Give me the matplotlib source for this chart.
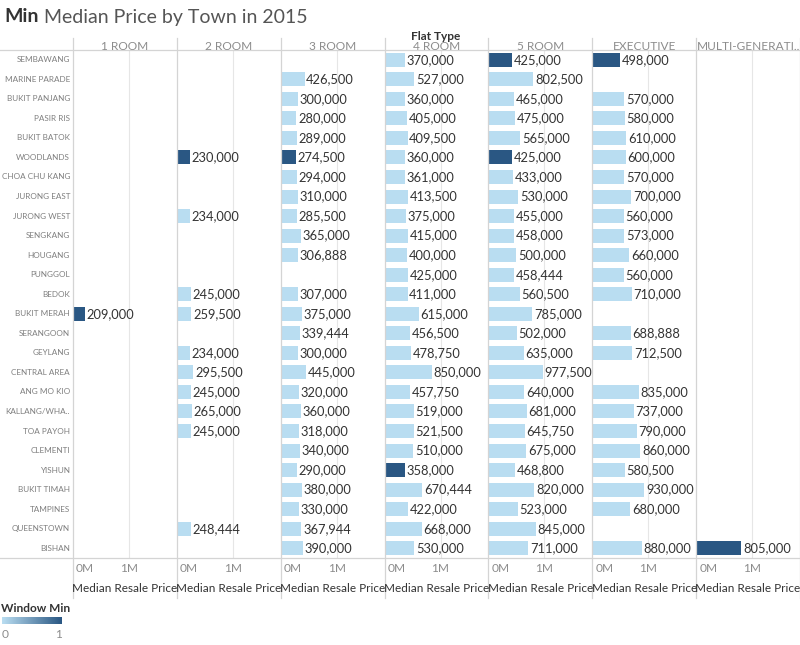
import matplotlib
matplotlib.use("Agg")
import matplotlib.pyplot as plt
from matplotlib.colors import LinearSegmentedColormap
import numpy as np

plt.rcParams['font.family'] = ['Lato', 'DejaVu Sans']

towns = ["SEMBAWANG", "MARINE PARADE", "BUKIT PANJANG", "PASIR RIS", "BUKIT BATOK",
         "WOODLANDS", "CHOA CHU KANG", "JURONG EAST", "JURONG WEST", "SENGKANG",
         "HOUGANG", "PUNGGOL", "BEDOK", "BUKIT MERAH", "SERANGOON", "GEYLANG",
         "CENTRAL AREA", "ANG MO KIO", "KALLANG/WHA..", "TOA PAYOH", "CLEMENTI",
         "YISHUN", "BUKIT TIMAH", "TAMPINES", "QUEENSTOWN", "BISHAN"]
flat_types = ["1 ROOM", "2 ROOM", "3 ROOM", "4 ROOM", "5 ROOM", "EXECUTIVE", "MULTI-GENERATI.."]

N = None
# one list per flat type, in town order (None = no sale)
room1 = [N, N, N, N, N, N, N, N, N, N, N, N, N, 209000, N, N, N, N, N, N, N, N, N, N, N, N]
room2 = [N, N, N, N, N, 230000, N, N, 234000, N, N, N, 245000, 259500, N, 234000,
         295500, 245000, 265000, 245000, N, N, N, N, 248444, N]
room3 = [N, 426500, 300000, 280000, 289000, 274500, 294000, 310000, 285500, 365000,
         306888, N, 307000, 375000, 339444, 300000, 445000, 320000, 360000, 318000,
         340000, 290000, 380000, 330000, 367944, 390000]
room4 = [370000, 527000, 360000, 405000, 409500, 360000, 361000, 413500, 375000, 415000,
         400000, 425000, 411000, 615000, 456500, 478750, 850000, 457750, 519000, 521500,
         510000, 358000, 670444, 422000, 668000, 530000]
room5 = [425000, 802500, 465000, 475000, 565000, 425000, 433000, 530000, 455000, 458000,
         500000, 458444, 560500, 785000, 502000, 635000, 977500, 640000, 681000, 645750,
         675000, 468800, 820000, 523000, 845000, 711000]
executive = [498000, N, 570000, 580000, 610000, 600000, 570000, 700000, 560000, 573000,
             660000, 560000, 710000, N, 688888, 712500, N, 835000, 737000, 790000,
             860000, 580500, 930000, 680000, N, 880000]
multigen = [N] * 25 + [805000]
columns = [room1, room2, room3, room4, room5, executive, multigen]

light = "#b9ddf1"
dark = "#2a5783"
grid_c = "#e6e6e6"
sep_c = "#d4d4d4"
lab_c = "#333333"
W, H = 800, 645

fig = plt.figure(figsize=(8, 6.45), dpi=100)


def fx(px):
    return px / W


def fy(py):
    return 1 - py / H


left, right = 73, 800
top, bottom = 50, 558
pw = (right - left) / len(flat_types)
xmax = pw / 56.0 * 1e6  # 1M ~ 56 px

for j, (ft, vals) in enumerate(zip(flat_types, columns)):
    x0 = left + j * pw
    ax = fig.add_axes([fx(x0), fy(bottom), fx(pw), (bottom - top) / H])
    ax.set_xlim(0, xmax)
    ax.set_ylim(len(towns) - 0.5, -0.5)
    present = [v for v in vals if v is not None]
    vmin = min(present)
    for i, v in enumerate(vals):
        if v is None:
            continue
        c = dark if v == vmin else light
        ax.barh(i, v, height=0.72, color=c, edgecolor="none")
        ax.text(v + 0.03e6, i, f"{v:,}", va="center", ha="left",
                fontsize=9.3, color=lab_c)
    ax.axvline(1e6, color=grid_c, lw=0.8, zorder=0)
    ax.set_xticks([])
    ax.set_yticks([])
    for s in ax.spines.values():
        s.set_visible(False)
    # column header
    fig.text(fx(x0 + pw / 2), fy(46), ft, ha="center", va="center",
             fontsize=8.6, color="#8c8c8c")
    # axis tick labels and title
    fig.text(fx(x0 + 3), fy(569), "0M", ha="left", va="center", fontsize=8.6, color="#8c8c8c")
    fig.text(fx(x0 + 56), fy(569), "1M", ha="center", va="center", fontsize=8.6, color="#8c8c8c")
    fig.text(fx(x0 + pw / 2), fy(588), "Median Resale Price", ha="center", va="center",
             fontsize=8.5, color="#333333")

# row labels
for i, t in enumerate(towns):
    yy = top + (i + 0.5) * (bottom - top) / len(towns)
    fig.text(fx(70), fy(yy), t, ha="right", va="center", fontsize=5.9, color="#7f7f7f")

# frame lines
overlay = fig.add_axes([0, 0, 1, 1], facecolor="none")
overlay.set_xlim(0, W)
overlay.set_ylim(H, 0)
overlay.axis("off")
overlay.plot([0, W], [top, top], color=sep_c, lw=0.9)
overlay.plot([0, W], [bottom, bottom], color=sep_c, lw=0.9)
for j in range(len(flat_types) + 1):
    xx = left + j * pw
    overlay.plot([xx, xx], [38, 598], color=sep_c, lw=0.9)

# title
t1 = fig.text(fx(4), fy(17), "Min", ha="left", va="center", fontsize=14,
              fontweight="bold", color="#333333")
fig.canvas.draw()
bb = t1.get_window_extent(renderer=fig.canvas.get_renderer())
fig.text(fx(bb.x1 + 5), fy(17), "Median Price by Town in 2015", ha="left", va="center",
         fontsize=14, color="#555555")
fig.text(fx(436), fy(36), "Flat Type", ha="center", va="center", fontsize=8.6,
         fontweight="bold", color="#333333")

# legend
fig.text(fx(1), fy(608), "Window Min", ha="left", va="center", fontsize=8.6,
         fontweight="bold", color="#333333")
cax = fig.add_axes([fx(2), fy(624), fx(60), 7 / H])
cmap = LinearSegmentedColormap.from_list("wm", [light, dark])
cax.imshow(np.linspace(0, 1, 100).reshape(1, -1), aspect="auto", cmap=cmap)
cax.set_xticks([])
cax.set_yticks([])
for s in cax.spines.values():
    s.set_visible(False)
fig.text(fx(2), fy(635), "0", ha="left", va="center", fontsize=8.6, color="#8c8c8c")
fig.text(fx(62), fy(635), "1", ha="right", va="center", fontsize=8.6, color="#8c8c8c")

fig.savefig("out.png", dpi=100)
